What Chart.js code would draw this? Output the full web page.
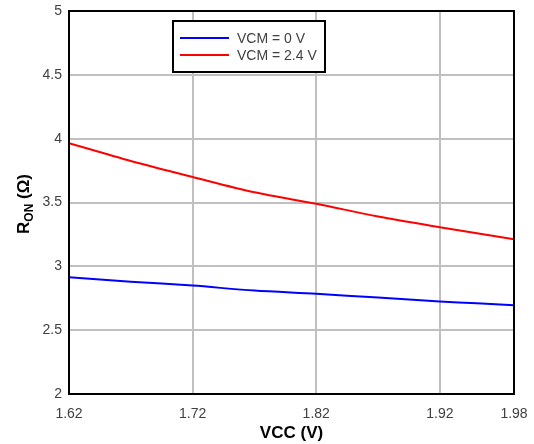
<!DOCTYPE html>
<html>
<head>
<meta charset="utf-8">
<script src="https://cdn.jsdelivr.net/npm/chart.js@4"></script>
<style>
  html, body { margin: 0; padding: 0; background: #fff; }
  canvas { display: block; }
</style>
</head>
<body>
<canvas id="c" width="534" height="444" style="width:534px;height:444px"></canvas>
<script>
const vcc = [1.62, 1.67, 1.72, 1.77, 1.82, 1.87, 1.92, 1.95, 1.98];
const ronVcm0 = [2.915, 2.88, 2.849, 2.81, 2.785, 2.755, 2.725, 2.71, 2.695];
const ronVcm24 = [3.965, 3.825, 3.70, 3.58, 3.49, 3.39, 3.306, 3.26, 3.212];
const seriesLabels = ['VCM = 0 V', 'VCM = 2.4 V'];
const xTicks = [1.62, 1.72, 1.82, 1.92, 1.98];
const yTicks = [2, 2.5, 3, 3.5, 4, 4.5, 5];
const xTitle = 'VCC (V)';
const yTitleMain = 'R';
const yTitleSub = 'ON';
const yTitleRest = ' (Ω)';

const FONT = 'Liberation Sans, Arial, sans-serif';

const framePlugin = {
  id: 'frame',
  afterDatasetsDraw(chart) {
    const {ctx, chartArea: a} = chart;
    ctx.save();
    ctx.strokeStyle = '#000';
    ctx.lineWidth = 2;
    ctx.strokeRect(a.left, a.top, a.right - a.left, a.bottom - a.top);
    // legend box
    const lx = 173, ly = 21, lw = 152, lh = 51;
    ctx.fillStyle = '#fff';
    ctx.fillRect(lx, ly, lw, lh);
    ctx.strokeRect(lx, ly, lw, lh);
    ctx.font = '14px ' + FONT;
    ctx.textBaseline = 'middle';
    chart.data.datasets.forEach((ds, i) => {
      const y = 38 + i * 17;
      ctx.strokeStyle = ds.borderColor;
      ctx.lineWidth = 2;
      ctx.beginPath();
      ctx.moveTo(180, y);
      ctx.lineTo(229, y);
      ctx.stroke();
      ctx.fillStyle = '#404040';
      ctx.textAlign = 'left';
      ctx.fillText(ds.label, 237, y + 1.5);
    });
    // y title with subscript
    ctx.save();
    ctx.translate(23, 204);
    ctx.rotate(-Math.PI / 2);
    ctx.fillStyle = '#000';
    ctx.textBaseline = 'alphabetic';
    const fMain = 'bold 17px ' + FONT;
    const fSub = 'bold 12px ' + FONT;
    ctx.font = fMain;
    const w1 = ctx.measureText(yTitleMain).width;
    const w3 = ctx.measureText(yTitleRest).width;
    ctx.font = fSub;
    const w2 = ctx.measureText(yTitleSub).width;
    let x = -(w1 + w2 + w3) / 2;
    ctx.font = fMain;
    ctx.textAlign = 'left';
    ctx.fillText(yTitleMain, x, 6);
    x += w1;
    ctx.font = fSub;
    ctx.fillText(yTitleSub, x, 10);
    x += w2;
    ctx.font = fMain;
    ctx.fillText(yTitleRest, x, 6);
    ctx.restore();
    ctx.restore();
  }
};

new Chart(document.getElementById('c'), {
  type: 'line',
  data: {
    datasets: [
      { label: seriesLabels[0], data: vcc.map((x, i) => ({x, y: ronVcm0[i]})), borderColor: '#0000ff', borderWidth: 2, pointRadius: 0, tension: 0.3, fill: false },
      { label: seriesLabels[1], data: vcc.map((x, i) => ({x, y: ronVcm24[i]})), borderColor: '#ff0000', borderWidth: 2, pointRadius: 0, tension: 0.3, fill: false }
    ]
  },
  options: {
    responsive: false,
    animation: false,
    devicePixelRatio: 1,
    layout: { padding: { top: 11, right: 20, left: 0, bottom: 0 } },
    plugins: { legend: { display: false }, tooltip: { enabled: false } },
    scales: {
      x: {
        type: 'linear',
        min: 1.62, max: 1.98,
        afterBuildTicks(s) { s.ticks = xTicks.map(v => ({value: v})); },
        afterFit(s) { s.height = 50; s.paddingLeft = 0; s.paddingRight = 0; },
        grid: { color: '#c0c0c0', lineWidth: 2, drawTicks: false },
        border: { display: false },
        ticks: { color: '#404040', font: { size: 14, family: FONT }, padding: 12, maxRotation: 0, autoSkip: false, callback: v => v.toFixed(2) },
        title: { display: true, text: xTitle, color: '#000', font: { size: 17, weight: 'bold', family: FONT }, padding: { top: 2, bottom: 0 } }
      },
      y: {
        type: 'linear',
        min: 2, max: 5,
        afterBuildTicks(s) { s.ticks = yTicks.map(v => ({value: v})); },
        afterFit(s) { s.width = 69; s.paddingTop = 0; s.paddingBottom = 0; },
        grid: { color: '#c0c0c0', lineWidth: 2, drawTicks: false },
        border: { display: false },
        ticks: { color: '#404040', font: { size: 14, family: FONT }, padding: 7, callback: v => String(v) }
      }
    }
  },
  plugins: [framePlugin]
});
</script>
</body>
</html>
